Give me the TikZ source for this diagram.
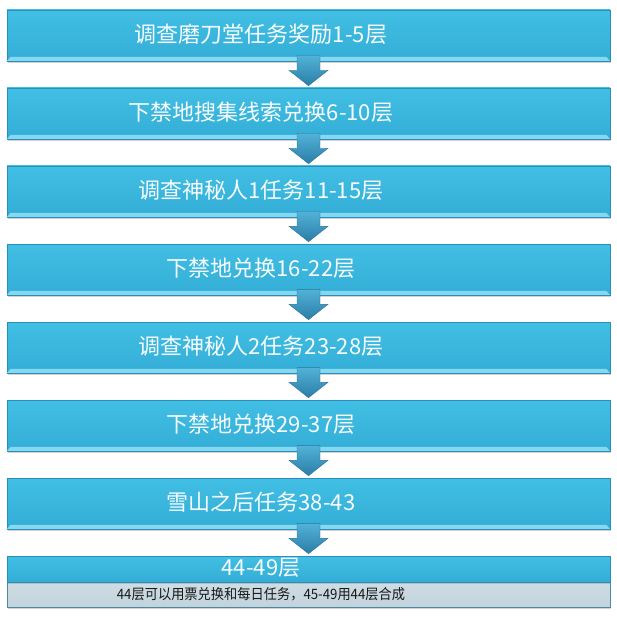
\documentclass[tikz,border=0pt]{standalone}
\usepackage{fontspec}
\setmainfont{Noto Sans CJK SC}
\usetikzlibrary{shadows}
\definecolor{boxtop}{HTML}{42BFE4}
\definecolor{boxbot}{HTML}{33ADD6}
\definecolor{boxedge}{HTML}{2A8FB8}
\definecolor{bevelc}{HTML}{86D8F1}
\definecolor{arrtop}{HTML}{52B2D8}
\definecolor{arrbot}{HTML}{2B7DA6}
\definecolor{arredge}{HTML}{2A749B}
\definecolor{graytop}{HTML}{CFDDE4}
\definecolor{graybot}{HTML}{C2D3DC}
\begin{document}
\begin{tikzpicture}[x=1pt,y=-1pt,
  box/.style={minimum width=603pt,minimum height=51pt,inner sep=0pt,draw=boxedge,line width=0.6pt,top color=boxtop,bottom color=boxbot,drop shadow={opacity=0.35,shadow xshift=1pt,shadow yshift=-2pt}},
  lastbox/.style={box,minimum height=26pt,drop shadow={opacity=0}},
  graybox/.style={minimum width=603pt,minimum height=25pt,inner sep=0pt,draw=boxedge!60!gray,line width=0.6pt,top color=graytop,bottom color=graybot,drop shadow={opacity=0.35,shadow xshift=1pt,shadow yshift=-2pt}},
  lbl/.style={text=white!97!cyan,inner sep=0pt,font=\fontsize{22}{22}\selectfont},
  note/.style={text=black!90,inner sep=0pt,font=\fontsize{14}{14}\selectfont},
  bevel/.style={fill=bevelc},
  arrowbody/.style={top color=arrtop,bottom color=arrbot,draw=arredge,line width=0.4pt,line join=miter}]
\useasboundingbox (0,0) rectangle (616,620);
\foreach \i/\y/\t in {1/10/调查磨刀堂任务奖励1-5层,2/88/下禁地搜集线索兑换6-10层,3/166/调查神秘人1任务11-15层,4/244/下禁地兑换16-22层,5/322/调查神秘人2任务23-28层,6/400/下禁地兑换29-37层,7/478/雪山之后任务38-43} {
  \node[box] (b\i) at (308.5,\y+25.5) {};
  \fill[bevel] ([xshift=0.4pt,yshift=0.4pt]b\i.south west) -- ([xshift=-0.4pt,yshift=0.4pt]b\i.south east) -- ([xshift=-4pt,yshift=4.5pt]b\i.south east) -- ([xshift=4pt,yshift=4.5pt]b\i.south west) -- cycle;
  \node[lbl] (t\i) at (261,\y+24.5) {\t};
}
\node[graybox] (g8) at (308.5,594.5) {};
\node[lastbox] (b8) at (308.5,569) {};
\node[lbl] (t8) at (261,568) {44-49层};
\node[note] (n8) at (261,594) {\scalebox{0.945}[1.02]{44层可以用票兑换和每日任务，45-49用44层合成}};
\foreach \i [evaluate=\i as \j using int(\i+1)] in {1,...,7} {
  \path[arrowbody] ([xshift=-11.5pt,yshift=6pt]b\i.south) -- ++(23,0) -- ++(0,15) -- ++(8,0) -- ([yshift=2pt]b\j.north) -- ([xshift=-19.5pt,yshift=-9pt]b\i.south) -- ++(8,0) -- cycle;
}
\end{tikzpicture}
\end{document}
